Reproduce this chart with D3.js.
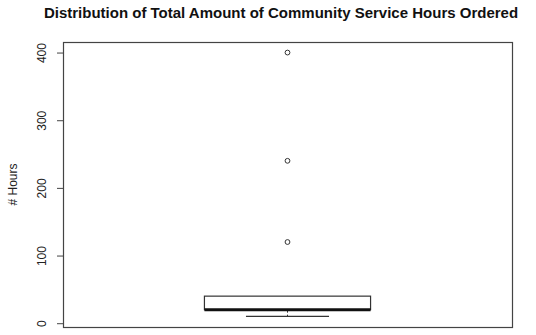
<!DOCTYPE html>
<html>
<head>
<meta charset="utf-8">
<script src="https://cdn.jsdelivr.net/npm/d3@7"></script>
<style>
  body { margin: 0; background: #fff; }
  svg { display: block; font-family: "Liberation Sans", Arial, sans-serif; }
</style>
</head>
<body>
<div id="chart"></div>
<script>
// box statistics
var boxStats = [{name: "hours", lower: 10, q1: 20, median: 20, q3: 40, upper: 40}];
var outliers = [120, 240, 400];
var yTicks = [0, 100, 200, 300, 400];

var W = 536, H = 335;
var margin = {top: 42, right: 24, bottom: 8, left: 63};

var svg = d3.select("#chart").append("svg")
    .attr("width", W)
    .attr("height", H);

var xScale = d3.scaleLinear()
    .domain([0.5, 1.5])
    .range([margin.left, W - margin.right]);

// R style: 4% padding around the data range
var yMin = 10, yMax = 400, pad = (yMax - yMin) * 0.04;
var yScale = d3.scaleLinear()
    .domain([yMin - pad, yMax + pad])
    .range([H - margin.bottom, margin.top]);

var boxWex = 0.37;

// frame
svg.append("rect")
    .attr("x", margin.left + 0.5)
    .attr("y", margin.top + 0.5)
    .attr("width", W - margin.right - margin.left)
    .attr("height", H - margin.bottom - margin.top)
    .attr("fill", "none")
    .attr("stroke", "#444")
    .attr("stroke-width", 1.2);

// y axis
var yAxis = d3.axisLeft(yScale)
    .tickValues(yTicks)
    .tickSize(6)
    .tickFormat(d3.format("d"));

var gy = svg.append("g")
    .attr("transform", `translate(${margin.left},0)`)
    .call(yAxis);
gy.select(".domain").remove();
gy.selectAll(".tick line").attr("stroke", "#444");
gy.selectAll(".tick text")
    .attr("x", 0).attr("y", 0).attr("dy", null)
    .attr("transform", "translate(-17,0) rotate(-90)")
    .attr("text-anchor", "middle")
    .attr("font-size", 12)
    .attr("fill", "#222")
    .attr("font-family", "Liberation Sans, Arial, sans-serif");

// boxes
var box = svg.selectAll("g.box").data(boxStats).enter().append("g").attr("class", "box");

box.append("line")
    .attr("x1", d => xScale(1)).attr("x2", d => xScale(1))
    .attr("y1", d => yScale(d.q1)).attr("y2", d => yScale(d.lower))
    .attr("stroke", "#333").attr("stroke-dasharray", "3,2");
box.append("line")
    .attr("x1", d => xScale(1 - boxWex / 4)).attr("x2", d => xScale(1 + boxWex / 4))
    .attr("y1", d => yScale(d.lower)).attr("y2", d => yScale(d.lower))
    .attr("stroke", "#333").attr("stroke-width", 1.2);
box.append("line")
    .attr("x1", d => xScale(1)).attr("x2", d => xScale(1))
    .attr("y1", d => yScale(d.q3)).attr("y2", d => yScale(d.upper))
    .attr("stroke", "#333").attr("stroke-dasharray", "3,2");
box.append("rect")
    .attr("x", d => xScale(1 - boxWex / 2))
    .attr("y", d => yScale(d.q3))
    .attr("width", d => xScale(1 + boxWex / 2) - xScale(1 - boxWex / 2))
    .attr("height", d => yScale(d.q1) - yScale(d.q3))
    .attr("fill", "#fff")
    .attr("stroke", "#333")
    .attr("stroke-width", 1.2);
box.append("line")
    .attr("x1", d => xScale(1 - boxWex / 2)).attr("x2", d => xScale(1 + boxWex / 2))
    .attr("y1", d => yScale(d.median)).attr("y2", d => yScale(d.median))
    .attr("stroke", "#111").attr("stroke-width", 3);

// outliers
svg.selectAll("circle.out").data(outliers).enter().append("circle")
    .attr("class", "out")
    .attr("cx", xScale(1))
    .attr("cy", d => yScale(d))
    .attr("r", 2.4)
    .attr("fill", "none")
    .attr("stroke", "#333")
    .attr("stroke-width", 1);

// title
svg.append("text")
    .attr("x", 281)
    .attr("y", 17.5)
    .attr("text-anchor", "middle")
    .attr("font-size", 15)
    .attr("font-weight", "bold")
    .attr("fill", "#111")
    .text("Distribution of Total Amount of Community Service Hours Ordered");

// y label
svg.append("text")
    .attr("transform", `translate(17,${(margin.top + H - margin.bottom) / 2}) rotate(-90)`)
    .attr("text-anchor", "middle")
    .attr("font-size", 12)
    .attr("fill", "#222")
    .text("# Hours");
</script>
</body>
</html>
